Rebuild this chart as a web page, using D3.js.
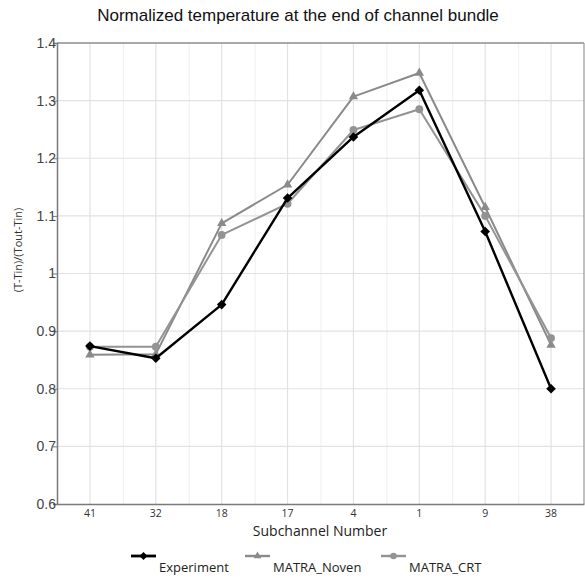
<!DOCTYPE html>
<html>
<head>
<meta charset="utf-8">
<script src="https://cdn.jsdelivr.net/npm/d3@7"></script>
<style>
  body { margin: 0; background: #fff; }
  svg { display: block; }
</style>
</head>
<body>
<div id="chart"></div>
<script>
// subchannel order along the x axis
const subchannels = ["41", "32", "18", "17", "4", "1", "9", "38"];
const experiment = [0.874, 0.853, 0.946, 1.131, 1.237, 1.318, 1.073, 0.800];
const matraNoven = [0.859, 0.860, 1.087, 1.154, 1.307, 1.348, 1.115, 0.876];
const matraCRT = [0.873, 0.873, 1.067, 1.121, 1.249, 1.285, 1.100, 0.888];
const yTicks = [0.6, 0.7, 0.8, 0.9, 1, 1.1, 1.2, 1.3, 1.4];

const width = 585, height = 578;
const margin = { top: 43, right: 1, bottom: 74, left: 57 };

const series = [
  { name: "Experiment", values: experiment, color: "#000000", width: 2.4, marker: d3.symbolSquare, rot: 45, size: 46 },
  { name: "MATRA_Noven", values: matraNoven, color: "#8a8a8a", width: 2, marker: d3.symbolTriangle, rot: 0, size: 38 },
  { name: "MATRA_CRT", values: matraCRT, color: "#939393", width: 2, marker: d3.symbolCircle, rot: 0, size: 48 }
];

const svg = d3.select("#chart").append("svg")
  .attr("width", width)
  .attr("height", height);

const x = d3.scaleBand()
  .domain(subchannels)
  .range([margin.left, width - margin.right]);

const y = d3.scaleLinear()
  .domain([0.6, 1.4])
  .range([height - margin.bottom, margin.top]);

const x0 = margin.left, x1 = width - margin.right;
const yTop = margin.top, yBot = height - margin.bottom;

// grid - minor lines on band edges, major on centres
const grid = svg.append("g");
grid.selectAll(".minor")
  .data(subchannels.slice(1))
  .enter().append("line")
  .attr("x1", d => x(d) + 0.5).attr("x2", d => x(d) + 0.5)
  .attr("y1", yTop).attr("y2", yBot)
  .attr("stroke", "#efefef").attr("stroke-width", 1);

grid.selectAll(".major")
  .data(subchannels)
  .enter().append("line")
  .attr("x1", d => x(d) + x.bandwidth() / 2).attr("x2", d => x(d) + x.bandwidth() / 2)
  .attr("y1", yTop).attr("y2", yBot)
  .attr("stroke", "#e2e2e2").attr("stroke-width", 1.2);

grid.selectAll(".hline")
  .data(yTicks.slice(1, -1))
  .enter().append("line")
  .attr("x1", x0).attr("x2", x1)
  .attr("y1", d => y(d)).attr("y2", d => y(d))
  .attr("stroke", "#e2e2e2").attr("stroke-width", 1.2);

// frame
svg.append("line").attr("x1", x0).attr("x2", x1).attr("y1", yTop).attr("y2", yTop)
  .attr("stroke", "#8c8c8c").attr("stroke-width", 1.3);
svg.append("line").attr("x1", x1).attr("x2", x1).attr("y1", yTop).attr("y2", yBot)
  .attr("stroke", "#a0a0a0").attr("stroke-width", 1.3);

// axes
const yAxis = svg.append("g")
  .attr("transform", `translate(${x0},0)`)
  .call(d3.axisLeft(y).tickValues(yTicks).tickSize(4).tickFormat(d3.format("")));
yAxis.select(".domain").attr("stroke", "#7a7a7a").attr("stroke-width", 1.5);
yAxis.selectAll(".tick line").attr("stroke", "#7a7a7a");
yAxis.selectAll("text")
  .attr("x", -1)
  .attr("font-family", "'Liberation Sans', Arial, sans-serif")
  .attr("font-size", 14)
  .attr("fill", "#444");

const xAxis = svg.append("g")
  .attr("transform", `translate(0,${yBot})`)
  .call(d3.axisBottom(x).tickSize(0).tickPadding(6));
xAxis.select(".domain").attr("stroke", "#7a7a7a").attr("stroke-width", 1.5);
xAxis.selectAll("text")
  .attr("font-family", "'Open Sans', 'Noto Sans', sans-serif")
  .attr("font-size", 10.5)
  .attr("fill", "#333");

// titles
svg.append("text")
  .attr("x", 298).attr("y", 21)
  .attr("text-anchor", "middle")
  .attr("font-family", "'Liberation Sans', Arial, sans-serif")
  .attr("font-size", 17)
  .attr("fill", "#111")
  .text("Normalized temperature at the end of channel bundle");

svg.append("text")
  .attr("x", 320).attr("y", 536)
  .attr("text-anchor", "middle")
  .attr("font-family", "'Open Sans', 'Noto Sans', sans-serif")
  .attr("font-size", 14)
  .attr("fill", "#222")
  .text("Subchannel Number");

svg.append("text")
  .attr("transform", "translate(22,250) rotate(-90)")
  .attr("text-anchor", "middle")
  .attr("font-family", "'Open Sans', 'Noto Sans', sans-serif")
  .attr("font-size", 11)
  .attr("fill", "#333")
  .text("(T-Tin)/(Tout-Tin)");

// series
const cx = d => x(d) + x.bandwidth() / 2;
const line = d3.line()
  .x((v, i) => cx(subchannels[i]))
  .y(v => y(v));

// draw grey series first, experiment on top
[series[1], series[2], series[0]].forEach(s => {
  svg.append("path")
    .datum(s.values)
    .attr("fill", "none")
    .attr("stroke", s.color)
    .attr("stroke-width", s.width)
    .attr("stroke-linejoin", "round")
    .attr("d", line);

  svg.append("g").selectAll("path")
    .data(s.values)
    .enter().append("path")
    .attr("transform", (v, i) => `translate(${cx(subchannels[i])},${y(v)}) rotate(${s.rot})`)
    .attr("d", d3.symbol().type(s.marker).size(s.size))
    .attr("fill", s.color);
});

// legend
const legendX = [131, 245, 381];
const legend = svg.append("g");
series.forEach((s, i) => {
  const g = legend.append("g").attr("transform", `translate(${legendX[i]},556)`);
  g.append("line")
    .attr("x1", 0).attr("x2", 25)
    .attr("stroke", s.color).attr("stroke-width", s.width + 0.4);
  g.append("path")
    .attr("transform", `translate(12.5,0) rotate(${s.rot})`)
    .attr("d", d3.symbol().type(s.marker).size(s.size * 0.7))
    .attr("fill", s.color);
  g.append("text")
    .attr("x", 28).attr("y", 16)
    .attr("font-family", "'Open Sans', 'Noto Sans', sans-serif")
    .attr("font-size", 13)
    .attr("fill", "#222")
    .text(s.name);
});
</script>
</body>
</html>
